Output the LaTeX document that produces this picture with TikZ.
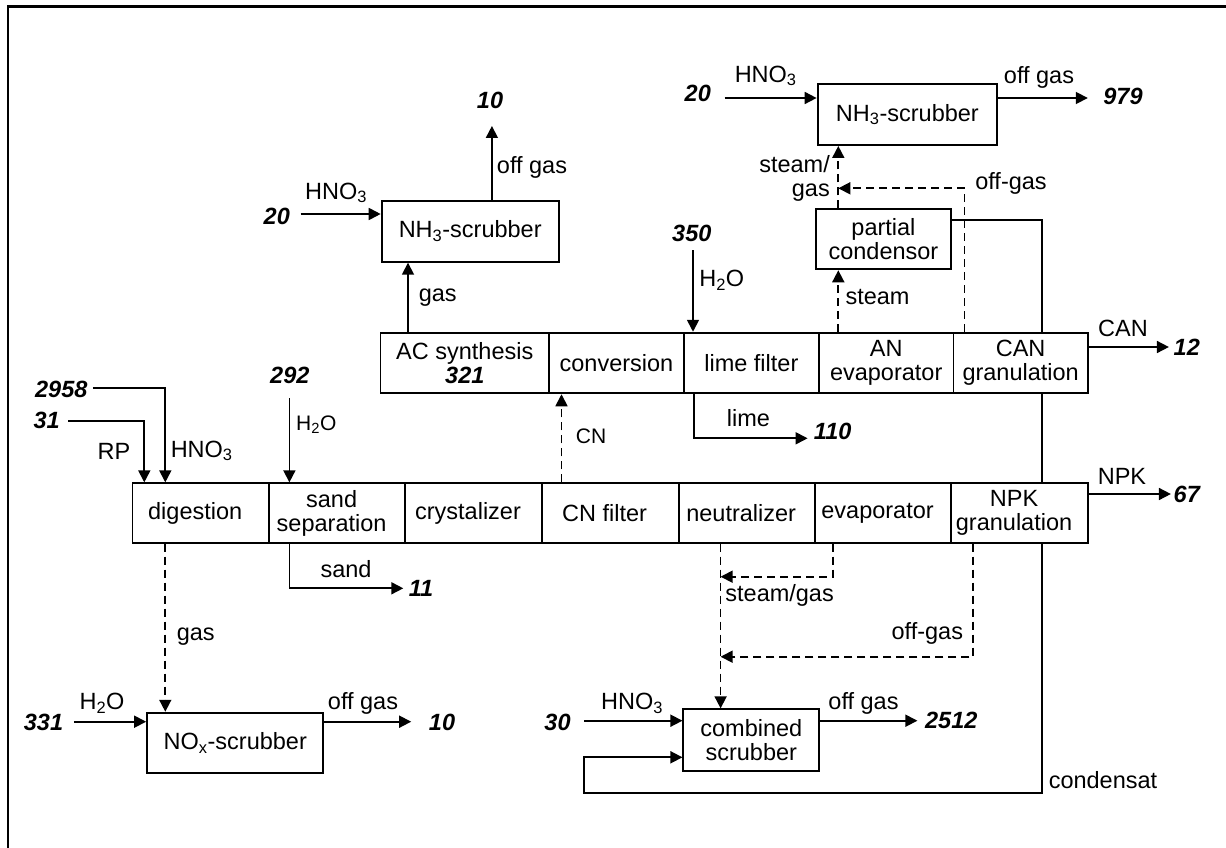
\documentclass[tikz,border=0pt]{standalone}
\usepackage{fontspec}
\setmainfont{Liberation Sans}
\usetikzlibrary{arrows.meta,calc}
\pgfdeclarelayer{background}
\pgfsetlayers{background,main}
\newcommand\myfs{\fontsize{23.5}{24}\selectfont}
\newcommand\mysmfs{\fontsize{21}{22}\selectfont}
\newcommand\lsh[1]{#1\hspace*{11pt}}
\begin{document}
\begin{tikzpicture}[x=1pt,y=-1pt,
  box/.style={draw, line width=1.9pt, fill=white, inner sep=0pt, align=center, font=\myfs},
  cellT/.style={box, minimum height=60.6pt},
  cellB/.style={box, minimum height=59.4pt, minimum width=136.4pt},
  lab/.style={inner sep=0pt, font=\myfs, align=center},
  slab/.style={inner sep=0pt, font=\mysmfs},
  num/.style={inner sep=0pt, font=\myfs\bfseries\itshape},
  conn/.style={line width=1.7pt, -{Triangle[length=12pt,width=12pt]}},
  dconn/.style={conn, dash pattern=on 8pt off 5pt}]
\useasboundingbox (0,0) rectangle (1226,848);
\draw[line width=2.6pt] (7.9,848) -- (7.9,6.7) -- (1226,6.7);

% top row
\node[cellT, minimum width=168.6pt] (ac) at (464.8,363) {AC synthesis\\{\bfseries\itshape 321}};
\node[cellT, minimum width=134.7pt] (conv) at (616.45,363) {conversion};
\node[cellT, minimum width=135.1pt] (lime) at (751.35,363) {lime filter};
\node[cellT, minimum width=134.6pt] (anev) at (886.2,363) {AN\\evaporator};
\node[cellT, minimum width=134.3pt] (cang) at (1020.65,363) {CAN\\granulation};

% bottom row
\node[cellB] (dig) at (200.7,513) {\lsh{digestion}};
\node[cellB] (sand) at (337.1,513) {\lsh{sand}\\\lsh{separation}};
\node[cellB] (cry) at (473.5,513) {\lsh{crystalizer}};
\node[cellB, minimum width=136.9pt] (cnf) at (610.15,513) {\lsh{CN filter}};
\node[cellB, minimum width=136.2pt] (neut) at (746.7,513) {\lsh{neutralizer}};
\node[cellB, minimum width=136.5pt] (evap) at (883.05,513) {\lsh{evaporator}};
\node[cellB, minimum width=136.5pt] (npk) at (1019.55,513) {\lsh{NPK}\\\lsh{granulation}};

% separate units
\node[box, minimum width=177.1pt, minimum height=60.7pt] (scrA) at (470.2,231.4) {NH\textsubscript{3}-scrubber};
\node[box, minimum width=179.6pt, minimum height=60.7pt] (scrB) at (907.4,114.65) {NH\textsubscript{3}-scrubber};
\node[box, minimum width=134.9pt, minimum height=60pt] (pc) at (883.45,239.3) {partial\\condensor};
\node[box, minimum width=176.3pt, minimum height=60.6pt] (nox) at (235.25,743) {NO\textsubscript{x}-scrubber};
\node[box, minimum width=135.8pt, minimum height=61.4pt] (cs) at (751.3,740) {combined\\scrubber};

% condensat loop (behind the boxes)
\coordinate (k1) at (1042.3,220);
\coordinate (k2) at (584,793.3);
\coordinate (kin) at ($(cs.west)+(0,17.3)$);
\begin{pgfonlayer}{background}
\draw[conn] (pc.east |- k1) -- (k1) -- (k1 |- k2) -- (k2) -- (k2 |- kin) -- (kin);
\end{pgfonlayer}
\node[lab] (cond) at (1103,780) {condensat};

% top-left scrubber
\coordinate (a1) at (300.5,214);
\node[num] (n20a) at (276.8,216) {20};
\node[lab] (hA) at (336,193) {HNO\textsubscript{3}};
\draw[conn] (a1) -- (a1 -| scrA.west);
\coordinate (a2) at (491.9,126);
\node[num] (n10a) at (490,100) {10};
\node[lab] (ogA) at (532,167) {off gas};
\draw[conn] (a2 |- scrA.north) -- (a2);
\coordinate (g1) at (408,300);
\node[lab] (gA) at (437.7,298) {gas};
\draw[conn] (g1 |- ac.north) -- (g1 |- scrA.south);

% top-right scrubber
\coordinate (b1) at (724.6,98);
\node[num] (n20b) at (697.8,93) {20};
\node[lab] (hB) at (765.7,76) {HNO\textsubscript{3}};
\draw[conn] (b1) -- (b1 -| scrB.west);
\coordinate (b2) at (1087.8,98);
\draw[conn] (scrB.east |- b2) -- (b2);
\node[lab] (ogB) at (1039,77) {off gas};
\node[num] (n979) at (1123,96) {979};

% steam / off-gas to upper scrubber
\coordinate (xs) at (838.3,200);
\draw[dconn] (xs |- pc.north) -- (xs |- scrB.south);
\node[lab, anchor=east, align=right] (sg) at (830,178) {steam/\\gas};
\draw[dconn] (xs |- anev.north) -- (xs |- pc.south);
\node[lab] (stm) at (877.5,297) {steam};
\coordinate (og1) at (964.5,188.3);
\draw[dconn] (og1 |- cang.north) -- (og1) -- (xs |- og1);
\node[lab] (ogC) at (1011,183) {off-gas};

% water to lime filter
\node[num] (n350) at (691.8,233) {350};
\coordinate (w1) at (693,250);
\draw[conn] (w1) -- (w1 |- lime.north);
\node[lab] (hw1) at (721.8,280) {H\textsubscript{2}O};

% CAN product
\coordinate (c12) at (1168.9,347);
\draw[conn] (cang.east |- c12) -- (c12);
\node[lab] (canl) at (1123,328) {CAN};
\node[num] (n12) at (1186.8,347) {12};

% lime
\coordinate (l0) at (693.8,438.3);
\coordinate (l1) at (807.6,438.3);
\draw[conn] (l0 |- lime.south) -- (l0) -- (l1);
\node[lab] (limel) at (748.5,418.3) {lime};
\node[num] (n110) at (832.7,431.7) {110};

% CN
\coordinate (cn0) at (561.5,440);
\draw[dconn] (cn0 |- cnf.north) -- (cn0 |- conv.south);
\node[slab] (cnl) at (591,436.7) {CN};

% digestion inputs
\coordinate (r1) at (92.9,388.3);
\coordinate (r1b) at (165.3,388.3);
\draw[conn] (r1) -- (r1b) -- (r1b |- dig.north);
\node[num] (n2958) at (61.3,389) {2958};
\coordinate (r2) at (68.4,420.7);
\coordinate (r2b) at (144.3,420.7);
\draw[conn] (r2) -- (r2b) -- (r2b |- dig.north);
\node[num] (n31) at (46.7,420) {31};
\node[lab] (rpl) at (113.9,451) {RP};
\node[lab] (hdig) at (201.7,451) {HNO\textsubscript{3}};

% water to sand separation
\coordinate (w2) at (289.4,398.3);
\draw[conn] (w2) -- (w2 |- sand.north);
\node[num] (n292) at (289.8,375) {292};
\node[slab] (hw2) at (316.3,425) {H\textsubscript{2}O};

% sand
\coordinate (s0) at (289.4,588.3);
\coordinate (s1) at (403.3,588.3);
\draw[conn] (s0 |- sand.south) -- (s0) -- (s1);
\node[lab] (sandl) at (346,569.3) {sand};
\node[num] (n11) at (421,588.3) {11};

% NPK product
\coordinate (p1) at (1170.9,494);
\draw[conn] (npk.east |- p1) -- (p1);
\node[lab] (npkl) at (1122,476.7) {NPK};
\node[num] (n67) at (1186.8,494) {67};

% gases to combined scrubber
\coordinate (v0) at (720.6,600);
\draw[dconn] (v0 |- neut.south) -- (v0 |- cs.north);
\coordinate (e1) at (832.7,576.7);
\draw[dconn] (e1 |- evap.south) -- (e1) -- (v0 |- e1);
\node[lab] (sgl) at (779.6,595) {steam/gas};
\coordinate (o1) at (973.3,656.7);
\draw[dconn] (o1 |- npk.south) -- (o1) -- (v0 |- o1);
\node[lab] (ogD) at (927.3,633.3) {off-gas};

% gas to NOx scrubber
\coordinate (gd) at (165.3,600);
\draw[dconn] (gd |- dig.south) -- (gd |- nox.north);
\node[lab] (gdl) at (195.7,636.7) {gas};

% NOx scrubber
\coordinate (x1) at (73.9,721.7);
\draw[conn] (x1) -- (x1 -| nox.west);
\node[num] (n331) at (43.5,722) {331};
\node[lab] (hx) at (102,703.3) {H\textsubscript{2}O};
\coordinate (x2) at (411.2,721.7);
\draw[conn] (x2 -| nox.east) -- (x2);
\node[lab] (ogx) at (363,703.3) {off gas};
\node[num] (n10b) at (442,722) {10};

% combined scrubber
\coordinate (y1) at (584.4,720.7);
\draw[conn] (y1) -- (y1 -| cs.west);
\node[num] (n30) at (557.5,722) {30};
\node[lab] (hcs) at (632,703.3) {HNO\textsubscript{3}};
\coordinate (y2) at (917.4,720.7);
\draw[conn] (y2 -| cs.east) -- (y2);
\node[lab] (ogcs) at (863.5,703.3) {off gas};
\node[num] (n2512) at (951.3,720) {2512};
\end{tikzpicture}
\end{document}
